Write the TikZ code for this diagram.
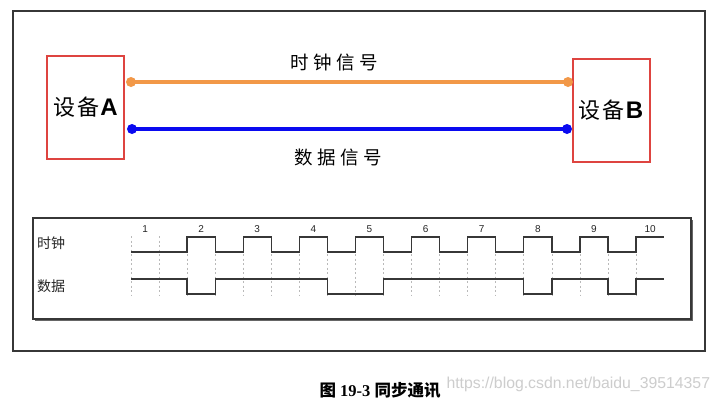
\documentclass[tikz,border=0pt]{standalone}
\usepackage{fontspec}
\setmainfont{Liberation Serif}
\setsansfont{Liberation Sans}
\newfontfamily\cjk{Noto Sans CJK SC}
\usetikzlibrary{calc}
\definecolor{boxred}{RGB}{222,68,64}
\definecolor{clkorange}{RGB}{242,152,72}
\definecolor{datblue}{RGB}{10,10,240}
\definecolor{framegray}{RGB}{55,55,55}
\definecolor{wavegray}{RGB}{55,55,55}
\definecolor{dashgray}{RGB}{185,185,185}
\definecolor{wmgray}{RGB}{205,205,205}
\tikzset{
  devbox/.style={draw=boxred, line width=2pt, minimum width=77pt, minimum height=103pt, inner sep=0pt},
  devtext/.style={font=\fontsize{22}{22}\selectfont},
  sigline/.style={line width=4pt},
  sigdot/.style={circle, fill, inner sep=0pt, minimum size=10pt},
  wave/.style={draw=wavegray, line width=1.3pt},
  gridline/.style={draw=dashgray, line width=0.7pt, dash pattern=on 2pt off 2.5pt},
  numlbl/.style={font=\sffamily\fontsize{10}{10}\selectfont, text=black!85},
  rowlbl/.style={font=\cjk\fontsize{14}{14}\selectfont, text=black!85},
  siglbl/.style={font=\cjk\fontsize{18.5}{18.5}\selectfont}
}
\begin{document}
\begin{tikzpicture}[x=1pt,y=-1pt]
\useasboundingbox (0,0) rectangle (718,402);
\fill[white] (0,0) rectangle (718,402);
% outer frame
\draw[framegray, line width=1.3pt] (13,11) rectangle (705,351);
% devices
\node[devbox] (A) at (85.5,107.5) {};
\node[devtext] (At) at (A.center) {\cjk 设\kern2pt 备\kern1pt\sffamily\bfseries\fontsize{24}{24}\selectfont A};
\node[devbox] (B) at (611,110) {};
\node[devtext] (Bt) at (B.center) {\cjk 设\kern2pt 备\kern1pt\sffamily\bfseries\fontsize{24}{24}\selectfont B};
% signal lines
\coordinate (ca) at (131,82);
\coordinate (cb) at (568,82);
\coordinate (da) at (132,129);
\coordinate (db) at (567,129);
\draw[sigline, clkorange] (ca) -- (cb);
\node[sigdot, fill=clkorange] (cadot) at (ca) {};
\node[sigdot, fill=clkorange] (cbdot) at (cb) {};
\draw[sigline, datblue] (da) -- (db);
\node[sigdot, fill=datblue] (dadot) at (da) {};
\node[sigdot, fill=datblue] (dbdot) at (db) {};
\node[siglbl] (clklbl) at (334,62) {时\kern4.5pt 钟\kern4.5pt 信\kern4.5pt 号};
\node[siglbl] (datlbl) at (338,157) {数\kern4.5pt 据\kern4.5pt 信\kern4.5pt 号};
% timing frame with shadow
\fill[black!60] (35,220) rectangle (693,321);
\draw[framegray, line width=1.1pt, fill=white] (33,218) rectangle (691,319);
\node[rowlbl] (rclk) at (51,243) {时钟};
\node[rowlbl] (rdat) at (51,286) {数据};
\begin{scope}[shift={(131pt,0pt)}, x=28.06pt, y=-1pt]
  \foreach \k in {0,...,18} {
    \draw[gridline] (\k,236) -- (\k,296);
  }
  \foreach \i in {1,...,10} {
    \node[numlbl] (n\i) at ({2*(\i-1)+0.5},229) {\i};
  }
  \draw[wave] (0,252)
    foreach \k in {2,4,...,16} { -- (\k,252) -- (\k,237) -- (\k+1,237) -- (\k+1,252) }
    -- (18,252) -- (18,237) -- (19,237);
  \draw[wave] (0,279) -- (2,279) -- (2,294) -- (3,294) -- (3,279) -- (7,279) -- (7,294)
    -- (9,294) -- (9,279) -- (14,279) -- (14,294) -- (15,294) -- (15,279) -- (17,279)
    -- (17,294) -- (18,294) -- (18,279) -- (19,279);
\end{scope}
% caption
\node[anchor=west, font=\bfseries\fontsize{16.5}{16.5}\selectfont] (cap) at (316,390)
  {{\cjk\bfseries 图} 19-3 {\cjk\bfseries 同步通讯}};
\node[anchor=west, font=\sffamily\fontsize{15.8}{15.8}\selectfont, text=wmgray] (wm) at (443,384)
  {https://blog.csdn.net/baidu\_39514357};
\end{tikzpicture}
\end{document}
